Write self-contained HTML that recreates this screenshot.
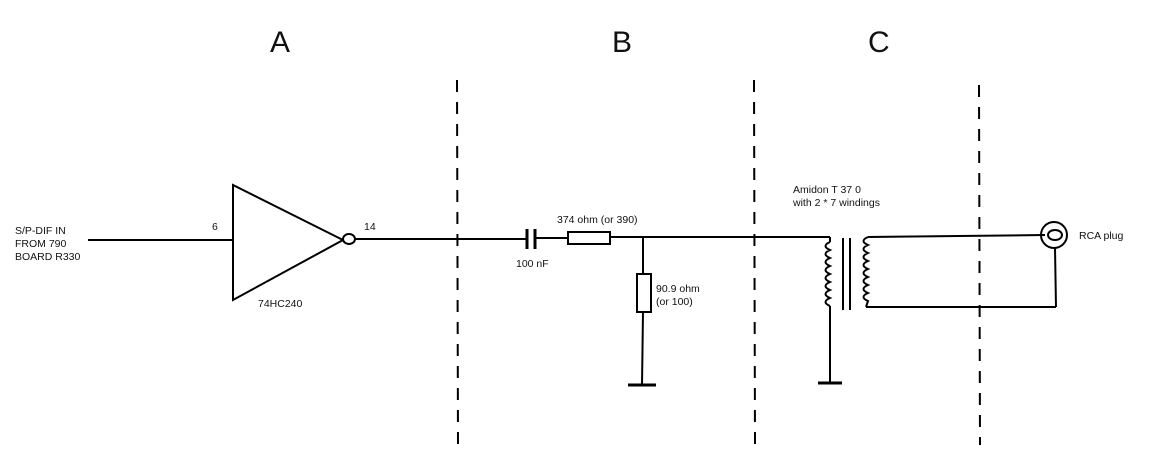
<!DOCTYPE html>
<html><head><style>body{margin:0;background:#fff}svg{display:block}text{font-family:"Liberation Sans",sans-serif;fill:#111}</style></head>
<body>
<svg width="1152" height="469" viewBox="0 0 1152 469" xmlns="http://www.w3.org/2000/svg">
<g font-size="30"><text x="270" y="52">A</text><text x="612" y="52">B</text><text x="868" y="52">C</text></g>
<g stroke="#000" stroke-width="2" stroke-dasharray="12,10" fill="none">
<line x1="457" y1="80" x2="458" y2="445"/><line x1="754" y1="80" x2="755" y2="445"/><line x1="979" y1="85" x2="980" y2="445"/>
</g>
<g font-size="10.5"><text x="15" y="234">S/P-DIF IN</text><text x="15" y="247">FROM 790</text><text x="15" y="260">BOARD R330</text>
<text x="212" y="230">6</text><text x="364" y="230">14</text><text x="258" y="307">74HC240</text>
<text x="557" y="223">374 ohm (or 390)</text><text x="516" y="267">100 nF</text>
<text x="656" y="292">90.9 ohm</text><text x="656" y="305">(or 100)</text>
<text x="793" y="193">Amidon T 37 0</text><text x="793" y="206">with 2 * 7 windings</text>
<text x="1079" y="239">RCA plug</text></g>
<g stroke="#000" stroke-width="2" fill="none">
<line x1="88" y1="240" x2="233" y2="240"/>
<path d="M233 185 L233 300 L343 240 Z" stroke-width="2"/>
<ellipse cx="349" cy="239" rx="6" ry="5" fill="#fff"/>
<line x1="355" y1="239" x2="527" y2="239"/>
<line x1="527" y1="229" x2="527" y2="249" stroke-width="3"/><line x1="535" y1="229" x2="535" y2="249" stroke-width="3"/>
<line x1="535" y1="238" x2="568" y2="238"/>
<rect x="568" y="232" width="42" height="12"/>
<line x1="610" y1="237" x2="830" y2="237"/>
<line x1="643" y1="237" x2="643" y2="274"/>
<rect x="637" y="274" width="14" height="38"/>
<line x1="643" y1="312" x2="642" y2="385"/>
<line x1="628" y1="385" x2="656" y2="385" stroke-width="3"/>
<line x1="830" y1="237" x2="830" y2="242"/>
<path d="M830 242 q-9 4 0 8 q-9 4 0 8 q-9 4 0 8 q-9 4 0 8 q-9 4 0 8 q-9 4 0 8 q-9 4 0 8 q-9 4 0 8"/>
<line x1="830" y1="306" x2="830" y2="383"/>
<line x1="818" y1="383" x2="842" y2="383" stroke-width="3"/>
<line x1="843" y1="238" x2="843" y2="310"/><line x1="850" y1="238" x2="850" y2="310"/>
<path d="M868 237 q-9 4 0 8 q-9 4 0 8 q-9 4 0 8 q-9 4 0 8 q-9 4 0 8 q-9 4 0 8 q-9 4 0 8 q-9 4 0 8 L866 307"/>
<line x1="868" y1="237" x2="1045" y2="235"/>
<line x1="866" y1="307" x2="1056" y2="307"/>
<line x1="1055" y1="248" x2="1056" y2="307"/>
<circle cx="1054" cy="235" r="13"/>
<ellipse cx="1055" cy="235" rx="7" ry="5"/>
</g>
</svg>
</body></html>
